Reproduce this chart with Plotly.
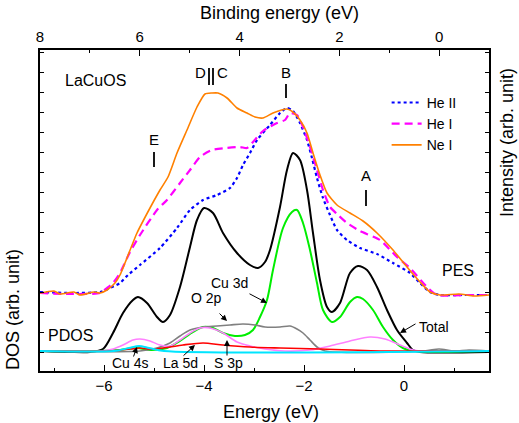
import plotly.graph_objects as go

# ---------------- data (energy in eV, intensity in arbitrary units) ----------------
# PES spectra (photo-emission)
he2_E = [-7.28, -6.68, -6.08, -5.88, -5.68, -5.52, -5.28, -4.88, -4.54, -4.28, -4.02, -3.74, -3.48,
         -3.34, -3.22, -3.08, -2.94, -2.68, -2.48, -2.34, -2.22, -2.08, -1.94, -1.84, -1.74, -1.62,
         -1.48, -1.34, -1.14, -0.88, -0.54, -0.22, 0.12, 0.32, 0.52, 0.72, 1.2, 1.70]
he2_I = [79, 78, 79, 83, 88, 96, 106, 123, 143, 161, 171, 176, 183,
         193, 206, 218, 231, 246, 258, 263, 260, 248, 231, 213, 193, 173,
         156, 141, 131, 123, 117, 108, 98, 88, 79, 76, 76, 76]

he1_E = [-7.28, -6.68, -6.08, -5.94, -5.82, -5.68, -5.48, -5.28, -4.94, -4.74, -4.48, -4.28, -4.08,
         -3.84, -3.54, -3.28, -3.14, -3.02, -2.82, -2.54, -2.38, -2.28, -2.14, -2.02, -1.88, -1.74,
         -1.62, -1.48, -1.34, -1.14, -0.88, -0.48, -0.14, 0.12, 0.46, 0.66, 1.2, 1.70]
he1_I = [78, 77, 78, 83, 88, 98, 119, 136, 161, 171, 188, 201, 214,
         221, 223, 224, 223, 229, 240, 248, 251, 258, 256, 244, 224, 201,
         181, 164, 157, 148, 140, 131, 114, 103, 84, 76, 76, 76]

ne1_E = [-7.28, -7.0, -6.88, -6.6, -6.48, -6.2, -6.08, -5.94, -5.78, -5.68, -5.34, -5.08, -4.88, -4.72,
         -4.54, -4.34, -4.14, -3.98, -3.84, -3.72, -3.54, -3.34, -3.14, -2.98, -2.82, -2.62,
         -2.34, -2.22, -2.08, -1.94, -1.82, -1.68, -1.54, -1.34, -1.08, -0.82, -0.54, -0.22,
         0.06, 0.32, 0.52, 0.72, 1.1, 1.4, 1.70]
ne1_I = [78, 80, 77, 79, 76, 79, 78, 81, 88, 96, 138, 163, 181, 194,
         218, 241, 264, 277, 278, 278, 273, 263, 258, 254, 253, 258,
         262, 259, 251, 238, 218, 196, 178, 166, 158, 150, 138, 121,
         104, 89, 79, 76, 77, 75, 76]

# PDOS (calculated)
tot_E = [-7.28, -6.68, -6.28, -6.02, -5.82, -5.62, -5.42, -5.32, -5.14, -4.94, -4.82, -4.68, -4.48,
         -4.28, -4.14, -4.00, -3.82, -3.62, -3.34, -3.08, -2.92, -2.78, -2.68, -2.48, -2.34, -2.22,
         -2.08, -1.94, -1.82, -1.68, -1.54, -1.44, -1.28, -1.08, -0.92, -0.74, -0.54, -0.34,
         -0.14, 0.06, 0.18, 0.32, 1.70]
tot_D = [20, 19, 19, 22, 38, 58, 71, 74, 68, 54, 49, 56, 84,
         124, 151, 163, 158, 138, 118, 106, 103, 109, 121, 164, 201, 218,
         211, 181, 138, 91, 64, 59, 68, 98, 105, 101, 84, 61,
         41, 28, 21, 19, 19]

cu3d_E = [-7.28, -6.08, -5.68, -5.34, -5.08, -4.74, -4.48, -4.22, -4.02, -3.82, -3.62, -3.38, -3.18,
          -3.02, -2.88, -2.74, -2.62, -2.42, -2.24, -2.14, -2.02, -1.88, -1.74, -1.62, -1.44, -1.28,
          -1.08, -0.94, -0.82, -0.62, -0.42, -0.22, -0.02, 0.18, 1.70]
cu3d_D = [20, 20, 21, 23, 21, 23, 30, 39, 44, 43, 38, 35, 36,
          41, 54, 71, 101, 143, 159, 161, 148, 121, 88, 61, 49, 54,
          69, 74, 72, 61, 44, 31, 23, 20, 20]

o2p_E = [-7.28, -5.28, -4.94, -4.68, -4.48, -4.28, -4.02, -3.74, -3.48, -3.22, -2.98, -2.78, -2.48,
         -2.28, -2.14, -2.02, -1.88, -1.74, -1.58, 0.4, 0.7, 1.0, 1.3, 1.70]
o2p_D = [20, 20, 23, 28, 35, 41, 44, 45, 46, 47, 46, 44, 44,
         45, 42, 38, 31, 24, 20, 20, 22, 20, 21, 20]

pink_E = [-7.28, -6.08, -5.82, -5.62, -5.42, -5.28, -5.08, -4.88, -4.68, -4.48, -4.28, -4.08, -3.88,
          -3.62, -3.34, -3.08, -2.78, -2.38, -1.88, -1.48, -1.08, -0.68, -0.38, -0.08, 0.18, 0.32, 1.70]
pink_D = [20, 20, 22, 26, 31, 32, 30, 26, 25, 31, 38, 43, 43,
          38, 29, 25, 22, 20, 21, 25, 30, 34, 32, 26, 21, 20, 20]

red_E = [-7.28, -5.88, -5.48, -5.28, -5.08, -4.82, -4.42, -4.02, -3.62, -3.08, -2.48, -1.68, -1.08, -0.48, 1.70]
red_D = [20, 20, 22, 23, 22, 23, 26, 28, 26, 24, 23, 22, 21, 20, 20]

cyan_E = [-7.28, -5.8, -5.5, -5.3, -5.1, -4.8, 1.70]
cyan_D = [20, 20, 23, 25, 23, 20, 20]

# axis tick labels
bottom_ticks = [-6, -4, -2, 0]
bottom_minor = [-7, -5, -3, -1, 1]
top_ticks = [8, 6, 4, 2, 0]
top_minor = [7, 5, 3, 1]

FONT = "Liberation Sans, Arial, sans-serif"

fig = go.Figure()

# PES traces
fig.add_trace(go.Scatter(x=he2_E, y=he2_I, mode="lines", name="He II",
                         line=dict(color="#0000FF", width=2.2, dash="dot", shape="spline", smoothing=0.6)))
fig.add_trace(go.Scatter(x=he1_E, y=he1_I, mode="lines", name="He I",
                         line=dict(color="#FF00FF", width=2.2, dash="8px,5px", shape="spline", smoothing=0.6)))
fig.add_trace(go.Scatter(x=ne1_E, y=ne1_I, mode="lines", name="Ne I",
                         line=dict(color="#FF8000", width=1.6, shape="spline", smoothing=0.6)))

# PDOS traces
pd = [
    (tot_E, tot_D, "#000000", 2.0),
    (cu3d_E, cu3d_D, "#00EE00", 2.0),
    (o2p_E, o2p_D, "#808080", 1.6),
    (pink_E, pink_D, "#FF80FF", 1.6),
    (red_E, red_D, "#FF0000", 1.6),
    (cyan_E, cyan_D, "#00E5FF", 2.0),
]
for xs, ys, c, w in pd:
    fig.add_trace(go.Scatter(x=xs, y=ys, mode="lines", showlegend=False,
                             line=dict(color=c, width=w, shape="spline", smoothing=0.8)))

# dummy trace to show top axis
fig.add_trace(go.Scatter(x=[8, -1], y=[None, None], xaxis="x2", mode="lines", showlegend=False, hoverinfo="skip"))

annotations = []
def txt(x, y, s, size=15, **kw):
    annotations.append(dict(x=x, y=y, xref="x", yref="y", text=s, showarrow=False,
                            font=dict(family=FONT, size=size, color="black"), **kw))

def arrow(x0, y0, x1, y1):
    annotations.append(dict(x=x1, y=y1, ax=x0, ay=y0, xref="x", yref="y", axref="x", ayref="y",
                            text="", showarrow=True, arrowhead=2, arrowsize=1.2, arrowwidth=1, arrowcolor="black"))

txt(-6.18, 291, "LaCuOS", 16)
txt(-4.08, 299, "D", 15)
txt(-3.64, 299, "C", 15)
txt(-2.36, 299, "B", 15)
txt(-5.00, 232, "E", 15)
txt(-0.76, 196, "A", 15)
txt(1.08, 101, "PES", 16)
txt(-6.68, 36, "PDOS", 16)
txt(-3.50, 88, "Cu 3d", 14)
txt(-3.96, 73, "O 2p", 14)
txt(0.60, 44, "Total", 14)
txt(-5.48, 8, "Cu 4s", 14)
txt(-4.48, 8, "La 5d", 14)
txt(-3.52, 8, "S 3p", 14)

arrow(-3.12, 78, -2.74, 68)
arrow(-3.72, 59, -3.54, 50)
arrow(0.26, 48, -0.08, 38)
arrow(-5.42, 13, -5.34, 24)
arrow(-4.44, 14, -4.18, 26)
arrow(-3.54, 14, -3.54, 31)

# peak marker bars
shapes = []
def bar(x, y0, y1):
    shapes.append(dict(type="line", xref="x", yref="y", x0=x, x1=x, y0=y0, y1=y1,
                       line=dict(color="black", width=1.8)))
bar(-3.90, 286, 303)
bar(-3.82, 286, 303)
bar(-2.36, 273, 287)
bar(-5.00, 204, 219)
bar(-0.76, 165, 181)

# outer texts (positions given in window pixels, converted to plot-area paper coords)
PL, PR, PT, PB = 40, 489, 50, 371
def ptxt(px, py, s, size, angle=0):
    annotations.append(dict(x=(px - PL) / (PR - PL), y=(PB - py) / (PB - PT), xref="paper", yref="paper",
                            text=s, showarrow=False, textangle=angle, xanchor="center", yanchor="middle",
                            font=dict(family=FONT, size=size, color="black")))

ptxt(271, 412, "Energy (eV)", 18)
ptxt(279, 13, "Binding energy (eV)", 18)
ptxt(13, 310, "DOS (arb. unit)", 18, -90)
ptxt(507, 143, "Intensity (arb. unit)", 18, -90)

fig.update_layout(
    width=519, height=423,
    margin=dict(l=PL, r=519 - PR, t=PT, b=423 - PB),
    paper_bgcolor="white", plot_bgcolor="white",
    font=dict(family=FONT, size=15, color="black"),
    showlegend=True,
    legend=dict(x=0.772, y=0.885, xanchor="left", yanchor="top", bgcolor="rgba(0,0,0,0)",
                font=dict(family=FONT, size=14), itemwidth=30, tracegroupgap=0),
    annotations=annotations,
    shapes=shapes,
    xaxis=dict(range=[-7.28, 1.70], tickvals=bottom_ticks, ticks="inside", ticklen=6, tickwidth=1.2,
               tickcolor="black", showline=True, linewidth=1.5, linecolor="black", mirror=False,
               showgrid=False, zeroline=False, tickfont=dict(family=FONT, size=15),
               minor=dict(tickvals=bottom_minor, ticks="inside", ticklen=3, tickwidth=1.2, tickcolor="black")),
    xaxis2=dict(range=[8, -1], overlaying="x", side="top", tickvals=top_ticks, ticks="inside", ticklen=6,
                tickwidth=1.2, tickcolor="black", showline=True, linewidth=1.5, linecolor="black",
                showgrid=False, zeroline=False, tickfont=dict(family=FONT, size=15),
                minor=dict(tickvals=top_minor, ticks="inside", ticklen=3, tickwidth=1.2, tickcolor="black")),
    yaxis=dict(range=[0, 321], tick0=18.5, dtick=20, ticks="inside", ticklen=4, tickwidth=1.2,
               tickcolor="black", showticklabels=False, showline=True, linewidth=1.5, linecolor="black",
               mirror="ticks", showgrid=False, zeroline=False),
)

fig.write_html("out.html")
